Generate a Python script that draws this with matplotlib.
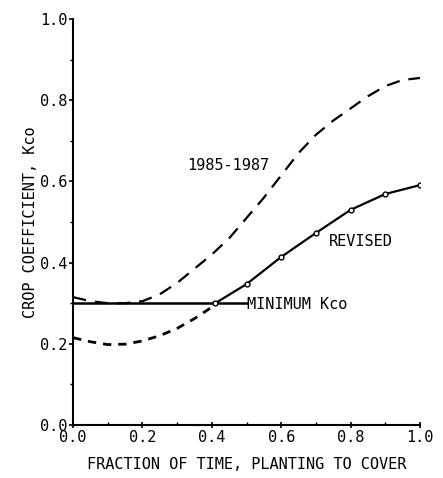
import matplotlib
matplotlib.use("Agg")
import matplotlib.pyplot as plt
from matplotlib.ticker import MultipleLocator

plt.rcParams['font.family'] = ['DejaVu Sans Mono', 'DejaVu Sans']

# Data
x_minimum = [0.0, 0.5]
y_minimum = [0.30, 0.30]

x_revised = [0.41, 0.5, 0.6, 0.7, 0.8, 0.9, 1.0]
y_revised = [0.30, 0.347, 0.414, 0.473, 0.53, 0.569, 0.591]

x_8587 = [0.0, 0.05, 0.1, 0.15, 0.2, 0.25, 0.3, 0.35, 0.4, 0.45, 0.5, 0.55, 0.6, 0.65, 0.7, 0.75, 0.8, 0.85, 0.9, 0.95, 1.0]
y_8587 = [0.315, 0.305, 0.300, 0.300, 0.305, 0.322, 0.35, 0.385, 0.42, 0.46, 0.51, 0.56, 0.615, 0.67, 0.715, 0.75, 0.78, 0.81, 0.835, 0.85, 0.855]

x_short = [0.0, 0.05, 0.1, 0.15, 0.2, 0.25, 0.3, 0.35, 0.41]
y_short = [0.215, 0.205, 0.198, 0.199, 0.207, 0.22, 0.238, 0.262, 0.296]

fig = plt.figure(figsize=(4.43, 4.78), dpi=100)
ax = fig.add_axes([0.165, 0.111, 0.783, 0.849])

ax.plot(x_minimum, y_minimum, color="black", lw=1.8)
ax.plot(x_revised, y_revised, color="black", lw=1.6, marker="o", ms=3.5,
        mfc="white", mec="black", mew=1.0)
ax.plot(x_8587, y_8587, color="black", lw=1.6, dashes=(6, 4))
ax.plot(x_short, y_short, color="black", lw=2.0, dashes=(3, 2.5))

ax.set_xlim(0, 1.0)
ax.set_ylim(0, 1.0)
ax.xaxis.set_major_locator(MultipleLocator(0.2))
ax.xaxis.set_minor_locator(MultipleLocator(0.1))
ax.yaxis.set_major_locator(MultipleLocator(0.2))
ax.yaxis.set_minor_locator(MultipleLocator(0.1))
ax.xaxis.set_major_formatter(plt.FuncFormatter(lambda v, p: f"{v:.1f}"))
ax.yaxis.set_major_formatter(plt.FuncFormatter(lambda v, p: f"{v:.1f}"))

for s in ["top", "right"]:
    ax.spines[s].set_visible(False)
for s in ["left", "bottom"]:
    ax.spines[s].set_linewidth(1.5)

ax.tick_params(axis="x", which="major", direction="inout", length=5, width=1.2, labelsize=11, pad=1)
ax.tick_params(axis="x", which="minor", direction="in", length=2, width=1.0)
ax.tick_params(axis="y", which="major", direction="out", length=3, width=1.2, labelsize=11, pad=1)
ax.tick_params(axis="y", which="minor", direction="out", length=2, width=1.0)

ax.set_xlabel("FRACTION OF TIME, PLANTING TO COVER", fontsize=11, va="center")
ax.xaxis.set_label_coords(0.5, -0.0985)
ax.set_ylabel("CROP COEFFICIENT, Kco", fontsize=11, va="center")
ax.yaxis.set_label_coords(-0.124, 0.5)

ax.text(0.329, 0.640, "1985-1987", fontsize=11, ha="left", va="center")
ax.text(0.738, 0.451, "REVISED", fontsize=11, ha="left", va="center")
ax.text(0.501, 0.296, "MINIMUM Kco", fontsize=11, ha="left", va="center")

fig.savefig("out.png", dpi=100)
